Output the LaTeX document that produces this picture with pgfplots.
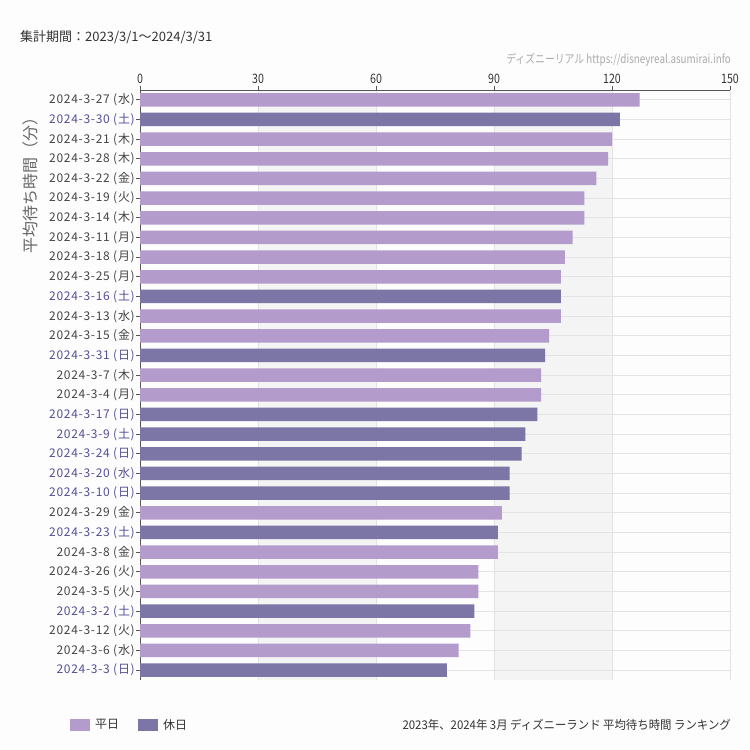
\documentclass[border=0pt]{standalone}
\usepackage{fontspec}
\setmainfont{Noto Sans CJK JP}
\newfontfamily\lsfont[LetterSpace=6]{Noto Sans CJK JP}
\newfontfamily\condfont[FakeStretch=0.82]{Noto Sans CJK JP}
\newfontfamily\capfont[FakeStretch=0.95]{Noto Sans CJK JP}
\usepackage{pgfplots}
\pgfplotsset{compat=1.18}
\definecolor{bgc}{HTML}{FCFDFC}
\definecolor{band}{HTML}{F3F4F3}
\definecolor{gridc}{HTML}{E2E3E2}
\definecolor{wkbar}{HTML}{B39CCB}
\definecolor{hobar}{HTML}{7B76A5}
\definecolor{wktxt}{HTML}{444444}
\definecolor{hotxt}{HTML}{554E96}
\definecolor{axc}{HTML}{555555}
\definecolor{ttc}{HTML}{333333}
\definecolor{wmc}{HTML}{AAAAAA}
\definecolor{ylc}{HTML}{666666}
\pagecolor{bgc}

\newcommand{\wk}[1]{\textcolor{wktxt}{#1}}
\newcommand{\ho}[1]{\textcolor{hotxt}{#1}}

\begin{document}
\begin{tikzpicture}[x=1pt,y=1pt]
\path (0,0) rectangle (750,750);
\node[anchor=west, text=ttc, font=\fontsize{13}{15}\selectfont, inner sep=0pt] at (20,713) {集計期間：2023/3/1～2024/3/31};
\node[anchor=east, text=wmc, font=\condfont\fontsize{12}{14}\selectfont, inner sep=0pt] at (731,690) {ディズニーリアル https://disneyreal.asumirai.info};
\node[rotate=90, text=ylc, font=\fontsize{16}{18}\selectfont, inner sep=0pt] at (30,568.5) {平均待ち時間（分）};
\node[anchor=east, text=ttc, font=\capfont\fontsize{12}{14}\selectfont, inner sep=0pt] at (731,25) {2023年、2024年 3月 ディズニーランド 平均待ち時間 ランキング};
\begin{axis}[
  at={(140pt,70pt)}, anchor=south west,
  scale only axis, width=590pt, height=590pt,
  set layers=standard,
  xmin=0, xmax=150, ymin=-0.5, ymax=29.5, y dir=reverse,
  axis x line*=top, axis y line*=left,
  axis line style={axc, line width=0.8pt, -},
  xtick={0,30,...,150}, ytick={0,...,29},
  tick align=outside,
  major tick length=4pt,
  tick style={axc, line width=0.8pt},
  grid=major, major grid style={gridc, line width=0.8pt},
  /pgf/number format/assume math mode=true,
  xticklabel style={font=\condfont\fontsize{13}{15}\selectfont, text=ttc, inner sep=2pt},
  yticklabel style={font=\lsfont\fontsize{12}{14}\selectfont, inner sep=1pt},
  yticklabels={
    \wk{2024-3-27 (水)}, \ho{2024-3-30 (土)}, \wk{2024-3-21 (木)}, \wk{2024-3-28 (木)},
    \wk{2024-3-22 (金)}, \wk{2024-3-19 (火)}, \wk{2024-3-14 (木)}, \wk{2024-3-11 (月)},
    \wk{2024-3-18 (月)}, \wk{2024-3-25 (月)}, \ho{2024-3-16 (土)}, \wk{2024-3-13 (水)},
    \wk{2024-3-15 (金)}, \ho{2024-3-31 (日)}, \wk{2024-3-7 (木)}, \wk{2024-3-4 (月)},
    \ho{2024-3-17 (日)}, \ho{2024-3-9 (土)}, \ho{2024-3-24 (日)}, \ho{2024-3-20 (水)},
    \ho{2024-3-10 (日)}, \wk{2024-3-29 (金)}, \ho{2024-3-23 (土)}, \wk{2024-3-8 (金)},
    \wk{2024-3-26 (火)}, \wk{2024-3-5 (火)}, \ho{2024-3-2 (土)}, \wk{2024-3-12 (火)},
    \wk{2024-3-6 (水)}, \ho{2024-3-3 (日)}},
  legend style={at={(axis description cs:-0.1186,-0.0763)}, anchor=west, draw=none, fill=none,
    legend columns=2, inner sep=0pt, font=\fontsize{12}{14}\selectfont, text=ttc,
    nodes={inner xsep=5pt},
    /tikz/every even column/.append style={column sep=14pt}},
  legend image code/.code={\fill[#1] (0pt,-6pt) rectangle (20pt,6pt);},
]
\addplot[fill=band, draw=none, forget plot, on layer=axis background] coordinates {(30,-0.5) (60,-0.5) (60,29.5) (30,29.5)} -- cycle;
\addplot[fill=band, draw=none, forget plot, on layer=axis background] coordinates {(90,-0.5) (120,-0.5) (120,29.5) (90,29.5)} -- cycle;
\addplot[xbar, bar width=13.5pt, bar shift=0pt, fill=wkbar, draw=none] coordinates {
 (127,0) (120,2) (119,3) (116,4) (113,5) (113,6) (110,7) (108,8) (107,9) (107,11)
 (104,12) (102,14) (102,15) (92,21) (91,23) (86,24) (86,25) (84,27) (81,28)};
\addlegendentry{平日}
\addplot[xbar, bar width=13.5pt, bar shift=0pt, fill=hobar, draw=none] coordinates {
 (122,1) (107,10) (103,13) (101,16) (98,17) (97,18) (94,19) (94,20) (91,22) (85,26) (78,29)};
\addlegendentry{休日}
\end{axis}
\end{tikzpicture}
\end{document}
